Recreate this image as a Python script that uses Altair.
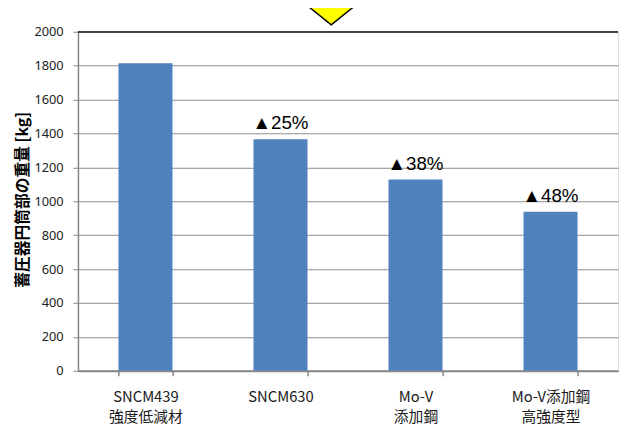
import altair as alt
import pandas as pd

categories = ["SNCM439|強度低減材", "SNCM630", "Mo-V|添加鋼", "Mo-V添加鋼|高強度型"]
weights = [1815, 1366, 1128, 938]
reductions = ["", "▲25%", "▲38%", "▲48%"]
y_ticks = [0, 200, 400, 600, 800, 1000, 1200, 1400, 1600, 1800, 2000]

df = pd.DataFrame({"cat": categories, "w": weights, "lab": reductions})

x_axis = alt.Axis(
    title=None,
    labelAngle=0,
    labelExpr="split(datum.label, '|')",
    labelFont="Noto Sans CJK JP",
    labelFontSize=15,
    labelColor="#1a1a1a",
    labelLineHeight=20,
    labelPadding=14,
    tickBand="extent",
    tickSize=5,
    tickColor="#878787",
    tickWidth=1.5,
    domainColor="#878787",
    domainWidth=2,
    grid=False,
)
x_scale = alt.Scale(paddingInner=0.6, paddingOuter=0.3)

y_axis = alt.Axis(
    values=y_ticks,
    tickCount=11,
    format="d",
    labelOverlap=False,
    title="蓄圧器円筒部の重量 [kg]",
    titleFont="Noto Sans CJK JP",
    titleFontSize=16,
    titleFontWeight="bold",
    titleColor="#000000",
    titleX=-56,
    titleY=170,
    titleBaseline="middle",
    titleAngle=-90,
    labelFont="Noto Sans",
    labelFontSize=13,
    labelColor="#222222",
    labelPadding=10,
    tickSize=5,
    tickColor="#878787",
    domainColor="#878787",
    domainWidth=1.5,
    gridColor="#8c8c8c",
    gridWidth=1,
)
y_scale = alt.Scale(domain=[0, 2000], nice=False)

base = alt.Chart(df)

x_enc = alt.X("cat:N", sort=None, scale=x_scale, axis=x_axis)
y_enc = alt.Y("w:Q", scale=y_scale, axis=y_axis)

bars = base.mark_bar(color="#4F81BD").encode(x=x_enc, y=y_enc)

labels = base.mark_text(
    font="Liberation Sans",
    fontSize=19,
    color="#000000",
    baseline="alphabetic",
    dy=-10,
).encode(x=x_enc, y=y_enc, text="lab:N")

top_line = base.mark_rule(color="#404040", strokeWidth=1.5).encode(
    y=alt.Y(datum=2000, type="quantitative", scale=y_scale, axis=y_axis)
)

arrow = alt.Chart(pd.DataFrame({"a": [0]})).mark_point(
    shape="M -2.48 -1 L 2.48 -1 L 0 1 Z",
    size=1600,
    filled=True,
    fill="#FFFF00",
    fillOpacity=1,
    stroke="#000000",
    strokeWidth=1.5,
    opacity=1,
).encode(x=alt.value(257), y=alt.value(-27))

chart = (
    alt.layer(bars, labels, top_line, arrow)
    .properties(
        width=548,
        height=344,
        autosize=alt.AutoSizeParams(type="none"),
        padding={"left": 71, "top": 21, "right": 2, "bottom": 60},
    )
    .configure_view(stroke="#b4b4b4", strokeWidth=1)
    .configure(background="#ffffff")
)

chart.save("out.html", embed_options={"renderer": "svg", "actions": False})
